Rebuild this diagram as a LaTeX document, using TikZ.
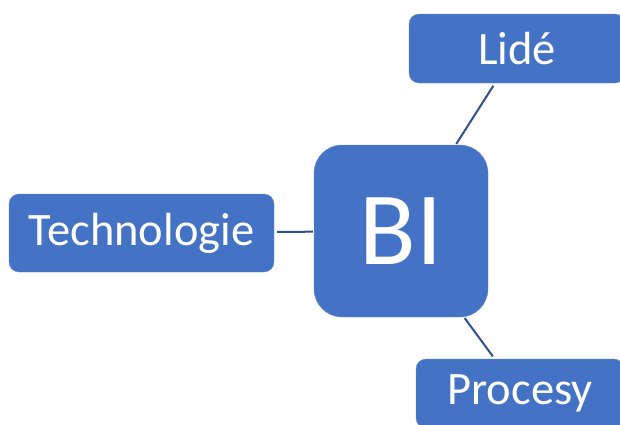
\documentclass[tikz,border=0pt]{standalone}
\usepackage{fontspec}
\setmainfont{Carlito}
\usepackage{tikz}
\usetikzlibrary{positioning}
\definecolor{biblue}{RGB}{68,114,196}
\definecolor{bidark}{RGB}{47,82,143}
\definecolor{biedge}{RGB}{110,145,210}

\begin{document}
\begin{tikzpicture}[x=1pt,y=-1pt,
    leaf/.style={draw=biedge,fill=biblue,text=white,rounded corners=10pt,
      inner sep=0pt,font=\fontsize{46.5}{50}\selectfont},
    hub/.style={leaf,rounded corners=28pt,minimum width=174pt,minimum height=172pt,
      font=\fontsize{104}{110}\selectfont},
    link/.style={draw=bidark,line width=2pt}]
  \useasboundingbox (0,0) rectangle (620,424);
  \clip (0,0) rectangle (620,424);
  % centre box
  \node[hub] (bi) at (401,231) {BI};
  % outer boxes
  \foreach \nm/\x/\y/\w/\h/\txt in {lide/517/48.5/216/69/{Lidé},
      tech/141.5/233/265/78/Technologie,
      procesy/520/393.5/208/69/Procesy}{
    \node[leaf,minimum width=\w pt,minimum height=\h pt] (\nm) at (\x,\y) {\txt};
  }
  % connectors
  \foreach \nm in {lide,tech,procesy}
    \draw[link,shorten <=1pt,shorten >=3pt] (bi) -- (\nm);
\end{tikzpicture}
\end{document}
